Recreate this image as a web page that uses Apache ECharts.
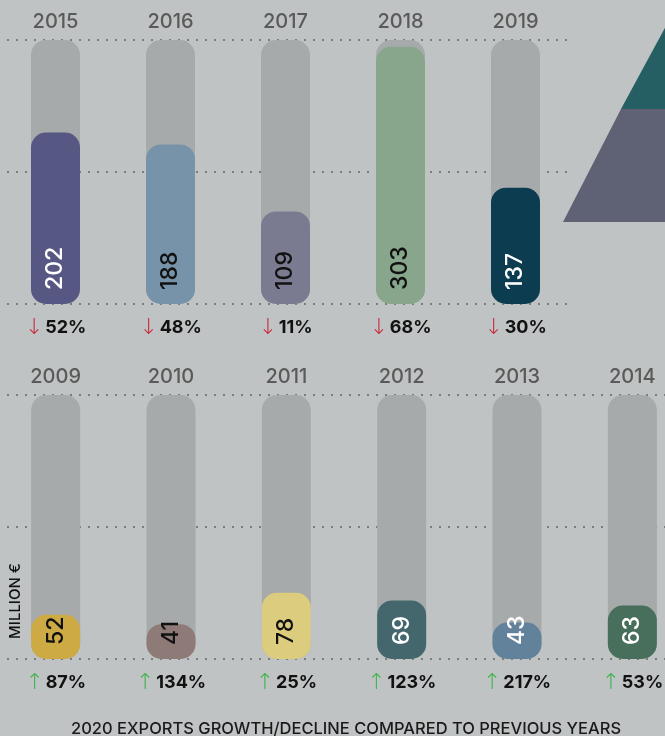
<!DOCTYPE html>
<html>
<head>
<meta charset="utf-8">
<script src="https://cdn.jsdelivr.net/npm/echarts@6/dist/echarts.min.js"></script>
<style>
  html, body { margin: 0; padding: 0; background: #c0c3c3; }
  #chart { width: 665px; height: 736px; }
</style>
</head>
<body>
<div id="chart"></div>
<script>
// data
var topYears = ['2015', '2016', '2017', '2018', '2019'];
var topValues = [202, 188, 109, 303, 137];
var topChange = [-52, -48, -11, -68, -30];

var bottomYears = ['2009', '2010', '2011', '2012', '2013', '2014'];
var bottomValues = [52, 41, 78, 69, 43, 63];
var bottomChange = [87, 134, 25, 123, 217, 53];

var scaleMax = 311;

// styles
var topColors = ['#575783', '#7693aa', '#7a7a90', '#87a68c', '#0b3c50'];
var topLabelColors = ['#fff', '#111', '#111', '#111', '#fff'];
var bottomColors = ['#cdaa44', '#8e7a77', '#dccc7e', '#43676c', '#62819a', '#476f5c'];
var bottomLabelColors = ['#111', '#111', '#111', '#fff', '#fff', '#fff'];

var FONT = 'Inter';

function buildData(values, colors, labelColors) {
    return values.map(function (v, i) {
        return {
            value: v,
            itemStyle: { color: colors[i] },
            label: { color: labelColors[i] }
        };
    });
}

function changeLabel(changes) {
    return function (value, index) {
        var c = changes[index];
        return (c < 0 ? '{dn|↓}' : '{up|↑}') + '{p|' + Math.abs(c) + '%}';
    };
}

var changeRich = {
    dn: { color: '#c8283a', fontSize: 22, fontFamily: 'DejaVu Sans', fontWeight: 'lighter', padding: [0, 2, 0, 0] },
    up: { color: '#3cb44b', fontSize: 22, fontFamily: 'DejaVu Sans', fontWeight: 'lighter', padding: [0, 2, 0, 0] },
    p: { color: '#111', fontSize: 18, fontWeight: 'bold', fontFamily: FONT }
};

function yearAxis(grid, years) {
    return {
        type: 'category', gridIndex: grid, position: 'top', data: years,
        axisLine: { show: false }, axisTick: { show: false },
        axisLabel: { color: '#5a5a5a', fontSize: 20, fontFamily: FONT, fontWeight: 500, margin: 8 }
    };
}

function changeAxis(grid, years, changes) {
    return {
        type: 'category', gridIndex: grid, position: 'bottom', data: years,
        axisLine: { show: false }, axisTick: { show: false },
        axisLabel: { formatter: changeLabel(changes), rich: changeRich, margin: 13 }
    };
}

function valueAxis(grid) {
    return {
        type: 'value', gridIndex: grid, min: 0, max: scaleMax, interval: scaleMax / 2,
        axisLabel: { show: false }, axisLine: { show: false }, axisTick: { show: false },
        splitLine: { lineStyle: { color: '#7a7d7d', width: 2, type: [2, 7] } }
    };
}

function barSeries(xIdx, yIdx, data) {
    return {
        type: 'bar', xAxisIndex: xIdx, yAxisIndex: yIdx, data: data,
        barWidth: 49,
        showBackground: true,
        backgroundStyle: { color: '#a7aaab', borderRadius: 15 },
        itemStyle: { borderRadius: 15 },
        label: {
            show: true, position: 'insideBottom', distance: 14,
            rotate: 90, align: 'left', verticalAlign: 'middle',
            fontSize: 23, fontFamily: FONT, fontWeight: 500
        }
    };
}

var myChart = echarts.init(document.getElementById('chart'));
var option = {
    backgroundColor: '#c0c3c3',
    animation: false,
    title: {
        text: '2020 EXPORTS GROWTH/DECLINE COMPARED TO PREVIOUS YEARS',
        left: 66, top: 716,
        textStyle: { fontSize: 16.5, fontWeight: 500, color: '#1a1a1a', fontFamily: FONT }
    },
    grid: [
        { left: -2, top: 40, right: 92, height: 264, outerBoundsMode: 'none' },
        { left: -2, top: 395, right: -25, height: 264, outerBoundsMode: 'none' }
    ],
    xAxis: [
        yearAxis(0, topYears),
        changeAxis(0, topYears, topChange),
        yearAxis(1, bottomYears),
        changeAxis(1, bottomYears, bottomChange)
    ],
    yAxis: [valueAxis(0), valueAxis(1)],
    series: [
        barSeries(0, 0, buildData(topValues, topColors, topLabelColors)),
        barSeries(2, 1, buildData(bottomValues, bottomColors, bottomLabelColors))
    ],
    graphic: [
        {
            type: 'polygon',
            shape: { points: [[621, 109], [680, 0], [740, 109]] },
            style: { fill: '#255f63' }
        },
        {
            type: 'polygon',
            shape: { points: [[563, 222], [621, 109], [740, 109], [800, 222]] },
            style: { fill: '#5f6174' }
        },
        {
            type: 'text', x: 15, y: 601, rotation: Math.PI / 2,
            style: {
                text: 'MILLION €', fill: '#111', fontSize: 15, fontFamily: FONT, fontWeight: 500,
                align: 'center', verticalAlign: 'middle'
            }
        }
    ]
};
myChart.setOption(option);
</script>
</body>
</html>
